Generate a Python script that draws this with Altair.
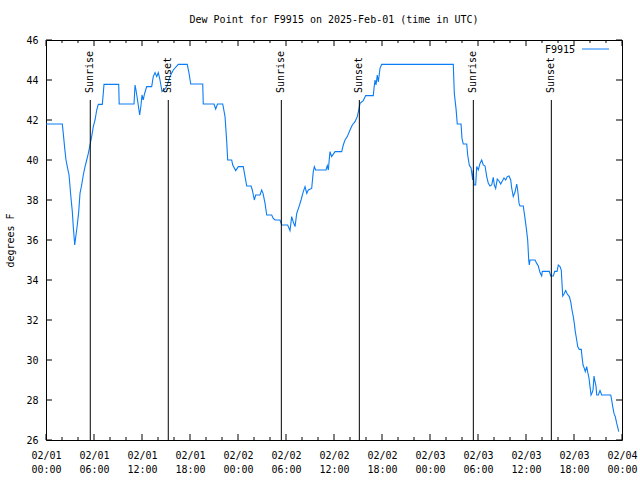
import altair as alt
import pandas as pd

# ---------------- data ----------------
hours = [0.0, 2.04, 2.16, 2.34, 2.5, 2.66, 2.88, 3.09, 3.29, 3.41, 3.59, 3.75, 3.91, 4.09, 4.25, 4.46,
         4.66, 4.88, 5.09, 5.29, 5.5, 5.71, 5.91, 6.13, 6.34, 6.54, 7.04, 7.16, 7.25, 9.09, 9.15, 11.0,
         11.13, 11.25, 11.44, 11.71, 11.88, 12.0, 12.16, 12.31, 12.59, 13.21, 13.41, 13.63, 13.84, 14.04,
         14.25, 14.5, 14.75, 15.09, 15.5, 15.91, 16.54, 17.66, 17.88, 18.09, 19.59, 19.66, 21.0, 21.21,
         21.44, 22.09, 22.38, 22.59, 22.71, 23.21, 23.34, 23.71, 24.04, 24.66, 24.88, 25.09, 25.63, 25.79,
         26.04, 26.21, 26.75, 26.96, 27.13, 27.38, 27.59, 28.21, 28.41, 28.63, 29.25, 29.46, 30.21, 30.5,
         30.71, 30.91, 31.13, 31.34, 31.63, 31.88, 32.16, 32.38, 32.59, 32.79, 33.21, 33.41, 33.54, 33.71,
         35.0, 35.16, 35.29, 35.5, 35.71, 36.13, 36.96, 37.16, 37.38, 37.66, 38.0, 38.29, 38.63, 38.91,
         39.09, 39.25, 39.66, 39.96, 40.91, 41.0, 41.13, 41.25, 41.41, 41.54, 41.75, 41.96, 50.91, 51.04,
         51.25, 51.41, 51.88, 52.0, 52.16, 52.59, 52.71, 52.91, 53.13, 53.34, 53.41, 53.5, 53.71, 53.84,
         54.04, 54.25, 54.46, 54.66, 54.88, 55.09, 55.29, 55.5, 55.71, 55.91, 56.04, 56.21, 56.41, 56.63,
         56.84, 57.04, 57.25, 57.46, 57.66, 57.88, 58.09, 58.21, 58.41, 58.63, 58.84, 58.96, 59.13, 59.25,
         59.66, 59.79, 59.96, 60.09, 60.21, 60.34, 60.41, 60.5, 61.13, 61.34, 61.54, 61.75, 61.96, 62.04,
         62.91, 63.09, 63.41, 63.59, 63.88, 64.04, 64.25, 64.41, 64.5, 64.59, 64.75, 64.96, 65.16, 65.41,
         65.59, 65.75, 65.91, 66.04, 66.16, 66.34, 66.46, 66.66, 66.91, 67.0, 67.13, 67.29, 67.41, 67.59,
         67.71, 67.88, 68.0, 68.13, 68.25, 68.38, 68.5, 68.63, 68.75, 68.84, 69.04, 69.25, 69.46, 70.59,
         70.71, 70.84, 71.0, 71.16, 71.34, 71.5, 71.59]
dewpoint = [41.8, 41.8, 41.33, 40.58, 40.0, 39.67, 39.25, 38.25, 37.42, 36.67, 35.75, 36.25, 36.75, 37.42,
            38.33, 38.75, 39.25, 39.67, 40.0, 40.33, 40.75, 41.17, 41.67, 42.0, 42.5, 42.78, 42.78, 43.33,
            43.78, 43.78, 42.8, 42.8, 43.75, 43.5, 43.0, 42.25, 42.75, 43.25, 43.0, 43.3, 43.67, 43.67,
            44.17, 44.37, 44.17, 44.37, 44.0, 43.42, 43.5, 43.67, 44.17, 44.5, 44.78, 44.78, 44.33, 43.8,
            43.8, 42.8, 42.8, 42.55, 42.8, 42.8, 42.17, 40.92, 40.0, 40.0, 39.75, 39.47, 39.67, 39.67,
            39.17, 38.7, 38.7, 38.5, 38.0, 38.25, 38.25, 38.5, 38.33, 37.83, 37.25, 37.25, 37.08, 37.0,
            37.0, 36.75, 36.75, 36.47, 37.17, 36.9, 36.67, 37.33, 37.67, 38.0, 38.42, 38.67, 38.33, 38.5,
            38.58, 39.42, 39.67, 39.5, 39.5, 39.72, 39.5, 40.42, 40.17, 40.42, 40.42, 40.75, 41.0, 41.17,
            41.5, 41.75, 41.92, 42.17, 42.5, 42.83, 42.97, 43.22, 43.22, 43.58, 44.0, 43.75, 44.25, 43.9,
            44.58, 44.78, 44.78, 43.33, 42.58, 41.8, 41.8, 41.08, 40.8, 40.8, 40.25, 39.75, 39.6, 39.0,
            39.5, 38.75, 38.75, 39.67, 39.5, 39.83, 40.0, 39.75, 39.7, 39.17, 38.83, 38.7, 38.75, 39.13,
            38.75, 38.58, 39.05, 38.95, 38.8, 38.95, 39.1, 39.0, 39.17, 39.2, 39.0, 38.6, 38.17, 38.4,
            38.8, 38.5, 37.83, 37.7, 37.7, 37.33, 36.83, 36.42, 36.0, 35.0, 34.75, 35.0, 35.0, 34.83, 34.7,
            34.37, 34.2, 34.43, 34.43, 34.2, 34.2, 34.43, 34.43, 34.75, 34.67, 34.5, 33.83, 33.2, 33.3,
            33.47, 33.3, 33.17, 32.92, 32.5, 32.17, 31.83, 31.42, 31.0, 30.67, 30.53, 30.53, 30.17, 29.75,
            29.58, 29.42, 29.67, 29.4, 29.08, 28.67, 28.25, 28.35, 28.5, 29.2, 28.9, 28.7, 28.25, 28.25,
            28.47, 28.25, 28.25, 28.0, 27.67, 27.33, 27.17, 26.83, 26.58, 26.42]

sun_times = ["2025-02-01T05:32:00Z", "2025-02-01T15:17:00Z",
             "2025-02-02T05:25:00Z", "2025-02-02T15:10:00Z",
             "2025-02-03T05:25:00Z", "2025-02-03T15:10:00Z"]
sun_labels = ["Sunrise", "Sunset", "Sunrise", "Sunset", "Sunrise", "Sunset"]

y_ticks = [26, 28, 30, 32, 34, 36, 38, 40, 42, 44, 46]
major_hours = list(range(0, 73, 6))
minor_hours = [h for h in range(0, 73, 2) if h % 6 != 0]

title_text = "Dew Point for F9915 on 2025-Feb-01 (time in UTC)"
series_name = "F9915"
y_title = "degrees F"

# ---------------- styling ----------------
W, H = 576, 400
FONT = "DejaVu Sans Mono"
BLUE = "#0a7cf5"
MAJ, MIN = 6, 3
SUN_TOP = 0.15 * H      # sun lines reach graph fraction 0.85
SUN_LABEL = 53          # label start, px from top of plot

base_ts = pd.Timestamp("2025-02-01T00:00:00")


def iso(h):
    return (base_ts + pd.to_timedelta(h, unit="h")).strftime("%Y-%m-%dT%H:%M:%SZ")


df = pd.DataFrame({"t": [iso(h) for h in hours], "v": dewpoint})
sun_df = pd.DataFrame({"t": sun_times, "label": sun_labels})
ymaj_df = pd.DataFrame({"v": y_ticks})
xmaj_df = pd.DataFrame({"t": [iso(h) for h in major_hours]})
xmin_df = pd.DataFrame({"t": [iso(h) for h in minor_hours]})

xscale = alt.Scale(type="utc",
                   domain=[alt.DateTime(year=2025, month=2, date=1, hours=0, utc=True),
                           alt.DateTime(year=2025, month=2, date=4, hours=0, utc=True)])
yscale = alt.Scale(domain=[26, 46], nice=False, zero=False)

xaxis_values = [alt.DateTime(year=2025, month=2, date=1 + h // 24, hours=h % 24, utc=True)
                for h in major_hours]

x_axis = alt.Axis(title=None, values=xaxis_values, ticks=False, domain=False, grid=False,
                  labelExpr="[utcFormat(datum.value, '%m/%d'), utcFormat(datum.value, '%H:%M')]",
                  labelFont=FONT, labelFontSize=10, labelColor="black",
                  labelPadding=10, labelLineHeight=14, labelFlush=False, labelOverlap=False,
                  labelAlign="center", labelBaseline="top")
y_axis = alt.Axis(title=y_title, values=y_ticks, ticks=False, domain=False, grid=False,
                  labelFont=FONT, labelFontSize=10, labelColor="black", labelPadding=8,
                  labelOverlap=False, labelFlush=False, labelBound=False, labelSeparation=0,
                  labelLineHeight=10,
                  titleFont=FONT, titleFontSize=10, titleFontWeight="normal", titleColor="black",
                  titleAngle=270, titleX=-36, titleY=H / 2, titleAlign="center",
                  titleBaseline="middle")

xs = alt.X("t:T", scale=xscale, axis=x_axis)
ys = alt.Y("v:Q", scale=yscale, axis=y_axis)

line = alt.Chart(df).mark_line(color=BLUE, strokeWidth=1.1, interpolate="linear").encode(x=xs, y=ys)

sun_rules = alt.Chart(sun_df).mark_rule(color="black", strokeWidth=1).encode(
    x=xs, y=alt.value(H), y2=alt.value(SUN_TOP))
sun_text = alt.Chart(sun_df).mark_text(angle=270, align="left", baseline="middle", font=FONT,
                                       fontSize=10, color="black").encode(
    x=xs, y=alt.value(SUN_LABEL), text="label:N")

ytick_l = alt.Chart(ymaj_df).mark_rule(color="black").encode(y=ys, x=alt.value(0), x2=alt.value(MAJ))
ytick_r = alt.Chart(ymaj_df).mark_rule(color="black").encode(y=ys, x=alt.value(W - MAJ), x2=alt.value(W))
xmaj_b = alt.Chart(xmaj_df).mark_rule(color="black").encode(x=xs, y=alt.value(H), y2=alt.value(H - MAJ))
xmaj_t = alt.Chart(xmaj_df).mark_rule(color="black").encode(x=xs, y=alt.value(0), y2=alt.value(MAJ))
xmin_b = alt.Chart(xmin_df).mark_rule(color="black").encode(x=xs, y=alt.value(H), y2=alt.value(H - MIN))
xmin_t = alt.Chart(xmin_df).mark_rule(color="black").encode(x=xs, y=alt.value(0), y2=alt.value(MIN))

leg_text = alt.Chart(pd.DataFrame({"name": [series_name]})).mark_text(
    align="right", baseline="middle", font=FONT, fontSize=10, color="black").encode(
    x=alt.value(529), y=alt.value(10), text="name:N")
leg_line = alt.Chart(pd.DataFrame({"name": [series_name]})).mark_rule(color=BLUE, strokeWidth=1).encode(
    x=alt.value(536), x2=alt.value(563), y=alt.value(9))

chart = alt.layer(line, sun_rules, sun_text, ytick_l, ytick_r, xmaj_b, xmaj_t, xmin_b, xmin_t,
                  leg_line, leg_text).properties(
    width=W, height=H,
    title=alt.TitleParams(title_text, font=FONT, fontSize=10, fontWeight="normal", color="black",
                          anchor="middle", offset=10),
    padding={"left": 46, "top": 40, "right": 18, "bottom": 40},
    autosize=alt.AutoSizeParams(type="none"),
    background="white",
).configure_view(stroke="black", strokeWidth=1)

chart.save("out.html", embed_options={"renderer": "svg", "actions": False})
